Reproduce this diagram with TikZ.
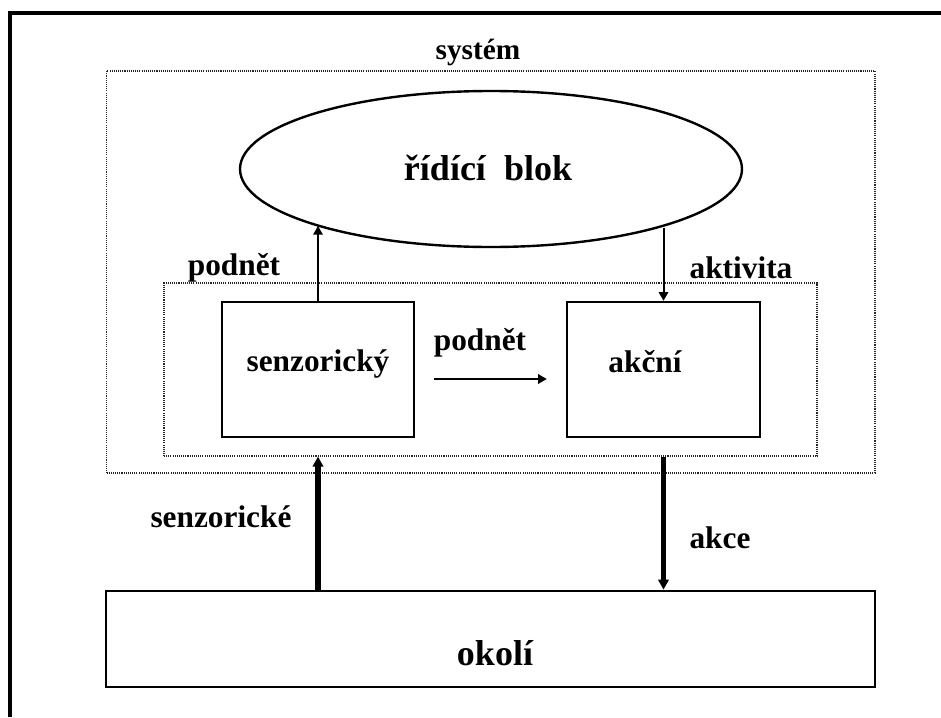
\documentclass[tikz,border=0pt]{standalone}
\usepackage{fontspec}
\setmainfont{Liberation Serif}
\usetikzlibrary{shapes.geometric,arrows.meta,fit,calc}
\begin{document}
\begin{tikzpicture}[x=0.75pt,y=-0.75pt,
  dotbox/.style={draw=black!85, line width=0.9pt, dash pattern=on 0.8pt off 0.8pt, rectangle, inner sep=0pt},
  blockbox/.style={draw, line width=1.8pt, rectangle, inner sep=0pt},
  lbl/.style={inner sep=0pt, font=\bfseries\fontsize{23.5pt}{28pt}\selectfont},
  toplbl/.style={inner sep=0pt, font=\bfseries\fontsize{22pt}{26pt}\selectfont},
  biglbl/.style={inner sep=0pt, font=\bfseries\fontsize{27pt}{32pt}\selectfont},
  flow/.style={line width=1.5pt, -{Triangle[length=6.5pt,width=7pt]}},
  heavy/.style={line width=4pt, -{Triangle[length=7.5pt,width=7.75pt]}}]
\useasboundingbox (0,0) rectangle (941,717);
\fill[white] (0,0) rectangle (941,717);

% page frame (only its left and top edges fall inside the page)
\draw[line width=2.5pt] (10,717) -- (10,13) -- (941,13);

% system and the sensor/actuator group
\coordinate (sysA) at (106.5,71);
\coordinate (sysB) at (875,473);
\node[dotbox, fit=(sysA)(sysB)] (sys) {};
\coordinate (grpA) at (164,283);
\coordinate (grpB) at (817,456);
\node[dotbox, fit=(grpA)(grpB)] (grp) {};

% blocks
\node[draw, ellipse, line width=1.8pt, inner sep=0pt,
      minimum width=376.5pt, minimum height=117pt] (ctrl) at (491,169) {};
\node[blockbox, minimum width=144pt, minimum height=101.25pt] (senz) at (318,369.5) {};
\node[blockbox, minimum width=144.75pt, minimum height=101.25pt] (akc) at (663.5,369.5) {};
\node[blockbox, line width=2pt, minimum width=576.75pt, minimum height=72pt] (okoli) at (490.5,639) {};

% texts
\node[toplbl] (tSys) at (478,52) {systém};
\node[biglbl] (tCtrl) at (488,168) {řídící\ \ blok};
\node[lbl] (tSenz) at (318,364) {senzorický};
\node[lbl] (tAkc) at (645,362) {akční};
\node[biglbl] (tOkoli) at (495,653) {okolí};
\node[lbl] (tPodnet1) at (234,268) {podnět};
\node[lbl] (tAktivita) at (741,268) {aktivita};
\node[lbl] (tPodnet2) at (480,343) {podnět};
\node[lbl] (tSenzIn) at (221,517) {senzorické};
\node[lbl] (tAkce) at (720,538) {akce};

% signal flow
\draw[flow] (senz.north) -- (senz.north |- ctrl.198.1);
\draw[flow] (akc.north |- ctrl.341.9) -- (akc.north);
\coordinate (midA) at ($(senz.east)+(19,9.5)$);
\coordinate (midB) at ($(akc.west)+(-19,9.5)$);
\draw[flow] (midA) -- (midB);
\draw[heavy] (okoli.north -| senz.south) -- (grp.south -| senz.south);
\draw[heavy] (grp.south -| akc.south) -- (okoli.north -| akc.south);
\end{tikzpicture}
\end{document}
